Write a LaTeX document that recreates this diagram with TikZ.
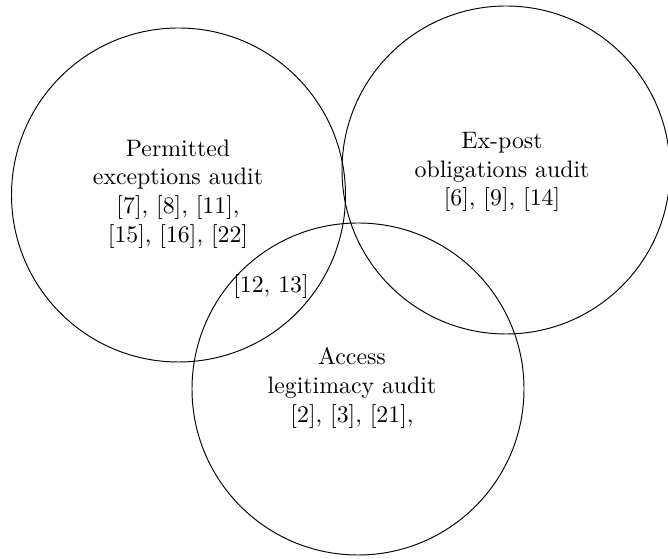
\documentclass[tikz,border=0pt]{standalone}
\usetikzlibrary{positioning}

\begin{document}
\begin{tikzpicture}[x=0.42pt, y=0.42pt, etiqueta/.style={align=center}]
  \useasboundingbox (0,0) rectangle (668,559);

  % Círculos
  \draw (178.5,364) circle (167);
  \draw (506,389) circle (164);
  \draw (358,170) circle (166);

  % Etiquetas
  \node[etiqueta] (permitidas) at (178,365) {Permitted\\exceptions audit\\{}[7], [8], [11],\\{}[15], [16], [22]};
  \node[etiqueta] (expost) at (502,387) {Ex-post\\obligations audit\\{}[6], [9], [14]};
  \node[etiqueta] (acceso) at (352,171) {Access\\legitimacy audit\\{}[2], [3], [21],};
  \node (comun) at (271,272) {[12, 13]};

\end{tikzpicture}
\end{document}
